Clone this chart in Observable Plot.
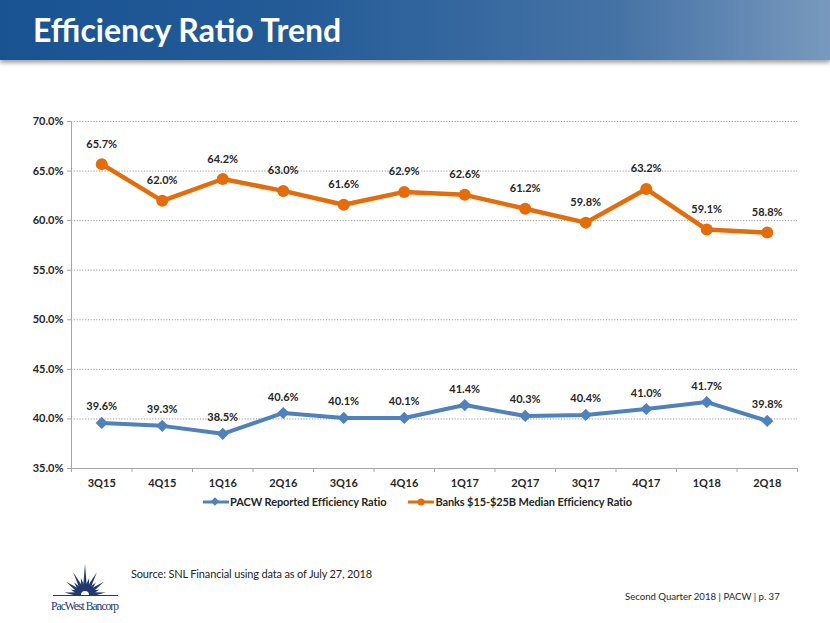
<!DOCTYPE html>
<html>
<head>
<meta charset="utf-8">
<script src="https://cdn.jsdelivr.net/npm/d3@7"></script>
<script src="https://cdn.jsdelivr.net/npm/@observablehq/plot@0.6"></script>
<style>
  html, body { margin: 0; padding: 0; background: #fff; }
  body { width: 830px; height: 623px; position: relative; overflow: hidden; font-family: Lato, "Open Sans", sans-serif; }
  #bar { position: absolute; left: 0; top: 0; width: 830px; height: 60px;
    background: linear-gradient(to right, #1a5392 0%, #235b97 35%, #4673a6 75%, #7899bd 100%);
    box-shadow: 0 3px 4px rgba(0,0,0,0.35); }
  #title { position: absolute; left: 33px; top: 10px; color: #fff; font-weight: bold; font-size: 32px; letter-spacing: 0px; }
  #chart { position: absolute; left: 0; top: 100px; }
  #legend { position: absolute; top: 495px; left: 203px; font-size: 11px; font-weight: bold; color: #262626; display: flex; align-items: center; letter-spacing: -0.1px; }
  .item { display: flex; align-items: center; margin-right: 22px; }
  .item svg { margin-right: 1px; }
  #source { position: absolute; left: 131px; top: 567px; font-size: 11px; letter-spacing: -0.15px; color: #262626; }
  #foot { position: absolute; left: 625px; top: 591px; font-size: 9.6px; color: #262626; }
  #logo { position: absolute; left: 46px; top: 560px; }
</style>
</head>
<body>
<div id="bar"><div id="title">Efficiency Ratio Trend</div></div>
<div id="chart"></div>
<div id="legend"></div>
<div id="logo"></div>
<div id="source">Source: SNL Financial using data as of July 27, 2018</div>
<div id="foot">Second Quarter 2018 | PACW | p. 37</div>
<script>
const quarters = ["3Q15","4Q15","1Q16","2Q16","3Q16","4Q16","1Q17","2Q17","3Q17","4Q17","1Q18","2Q18"];
const pacw = [39.6, 39.3, 38.5, 40.6, 40.1, 40.1, 41.4, 40.3, 40.4, 41.0, 41.7, 39.8];
const banks = [65.7, 62.0, 64.2, 63.0, 61.6, 62.9, 62.6, 61.2, 59.8, 63.2, 59.1, 58.8];
const yTicks = [35, 40, 45, 50, 55, 60, 65, 70];
const seriesNames = ["PACW Reported Efficiency Ratio", "Banks $15-$25B Median Efficiency Ratio"];
const colors = ["#4F81BD", "#E46C0A"];

const rowsP = quarters.map((q, i) => ({i, v: pacw[i]}));
const rowsB = quarters.map((q, i) => ({i, v: banks[i]}));
const bounds = d3.range(quarters.length + 1).map(i => i - 0.5);
const fmt = v => v.toFixed(1) + "%";
const txt = "#262626";

const chart = Plot.plot({
  width: 830, height: 400,
  marginLeft: 71, marginRight: 33, marginTop: 21, marginBottom: 32,
  style: {fontFamily: "Lato, 'Open Sans', sans-serif", fontSize: "11px", fontWeight: "bold", color: txt, background: "transparent"},
  x: {type: "linear", domain: [-0.5, quarters.length - 0.5]},
  y: {domain: [35, 70]},
  marks: [
    Plot.gridY(yTicks.filter(t => t > 35), {stroke: "#9a9a9a", strokeOpacity: 1, strokeDasharray: "1.2,1.6"}),
    Plot.axisY(yTicks, {tickSize: 4, tickPadding: 4, stroke: "#a6a6a6", fill: txt, tickFormat: fmt, label: null}),
    Plot.axisX(bounds, {tickSize: 4, stroke: "#a6a6a6", tickFormat: () => "", label: null}),
    Plot.axisX(d3.range(quarters.length), {tickSize: 0, tickPadding: 11, fill: txt, tickFormat: i => quarters[i], label: null}),
    Plot.ruleY([35], {stroke: "#a6a6a6"}),
    Plot.ruleX([-0.5], {stroke: "#a6a6a6"}),
    Plot.line(rowsB, {x: "i", y: "v", stroke: colors[1], strokeWidth: 4.5}),
    Plot.dot(rowsB, {x: "i", y: "v", fill: colors[1], r: 6, symbol: "circle"}),
    Plot.line(rowsP, {x: "i", y: "v", stroke: colors[0], strokeWidth: 4}),
    Plot.dot(rowsP, {x: "i", y: "v", fill: colors[0], r: 5.5, symbol: "diamond2"}),
    Plot.text(rowsB, {x: "i", y: "v", text: d => fmt(d.v), dy: -20, fill: txt, fontWeight: "bold"}),
    Plot.text(rowsP, {x: "i", y: "v", text: d => fmt(d.v), dy: -16, fill: txt, fontWeight: "bold"})
  ]
});
document.getElementById("chart").appendChild(chart);

// legend
const legend = document.getElementById("legend");
seriesNames.forEach((name, k) => {
  const item = document.createElement("div");
  item.className = "item";
  const marker = k === 0
    ? `<rect x="9" y="1.5" width="6" height="6" transform="rotate(45 12 4.5)" fill="${colors[k]}"/>`
    : `<circle cx="13" cy="5" r="3.5" fill="${colors[k]}"/>`;
  item.innerHTML = `<svg width="26" height="10"><line x1="0" x2="26" y1="5" y2="5" stroke="${colors[k]}" stroke-width="3"/>${marker}</svg><span>${name}</span>`;
  legend.appendChild(item);
});

// logo (decorative)
const logo = d3.select("#logo").append("svg").attr("width", 80).attr("height", 58);
const cx = 39, cy = 35, navy = "#22386e";
const n = 13;
for (let k = 0; k < n; k++) {
  const a = Math.PI * (0.04 + 0.92 * k / (n - 1));
  const mid = (n - 1) / 2;
  const d = Math.abs(k - mid);
  const len = d === 0 ? 31 : (k % 2 === 0 ? 28 - d * 1.2 : 18 - d * 0.5);
  const w = 0.24;
  const r0 = 8;
  const p = [
    [cx + r0 * Math.cos(a - w), cy - r0 * Math.sin(a - w)],
    [cx + len * Math.cos(a), cy - len * Math.sin(a)],
    [cx + r0 * Math.cos(a + w), cy - r0 * Math.sin(a + w)]
  ];
  logo.append("polygon").attr("points", p.map(q => q.join(",")).join(" ")).attr("fill", navy);
}
logo.append("path").attr("d", `M${cx-9},${cy} A9,9 0 0 1 ${cx+9},${cy} Z`).attr("fill", navy);
logo.append("path").attr("d", `M${cx-4},${cy} A4,4 0 0 1 ${cx+4},${cy} Z`).attr("fill", "#fff");
logo.append("line").attr("x1", 7).attr("x2", 72).attr("y1", cy + 0.5).attr("y2", cy + 0.5).attr("stroke", navy).attr("stroke-width", 1);
logo.append("text").attr("x", 39).attr("y", 50).attr("text-anchor", "middle").attr("textLength", 68)
  .attr("font-family", "'Liberation Serif', serif").attr("font-size", 11.5).attr("fill", navy).text("PacWest Bancorp");
</script>
</body>
</html>
